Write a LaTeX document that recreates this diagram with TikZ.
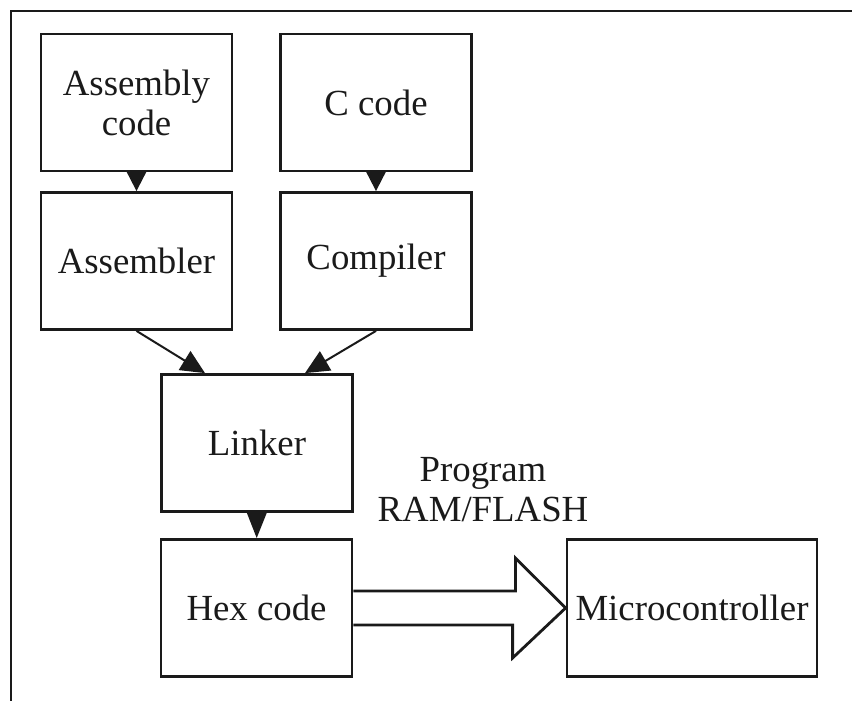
\documentclass[tikz,border=0pt]{standalone}
\usepackage{fontspec}
\setmainfont{Liberation Serif}
\usepackage{xcolor}
\usetikzlibrary{arrows.meta}
\definecolor{Ink}{HTML}{1A1A1A}
\tikzset{
  block/.style={draw=Ink, line width=1.4pt, minimum width=95.5pt, minimum height=68.5pt,
    inner sep=2pt, align=center, font=\fontsize{18.4}{20}\selectfont, text=Ink},
  flow/.style={-{Triangle[width=10pt,length=10pt]}, line width=1pt, color=Ink},
  bigarrow/.style={draw=Ink, line width=1.4pt, line join=miter},
  frame/.style={draw=Ink, line width=1.4pt},
  label/.style={align=center, font=\fontsize{18.4}{20}\selectfont, text=Ink},
}
\begin{document}
\begin{tikzpicture}[x=0.5pt, y=-0.5pt]
  \useasboundingbox (0,0) rectangle (852,701);
  % outer frame (only top and left edges show)
  \draw[frame] (852,11) -- (11,11) -- (11,701);

  % source files
  \node[block] (asm) at (136.5,102.5) {Assembly\\code};
  \node[block] (ccode) at (376,102.5) {C code};

  % tools
  \node[block] (assembler) at (136.5,261) {Assembler};
  \node[block] (compiler) at (376,261) {Compiler};
  \node[block] (linker) at (257,443) {Linker};
  \node[block] (hex) at (256.5,608) {Hex code};
  \node[block, minimum width=125pt] (mcu) at (692,608) {Microcontroller};

  \draw[flow] (asm) -- (assembler);
  \draw[flow] (ccode) -- (compiler);
  \draw[flow, -{Triangle[width=11pt,length=12pt]}] (assembler.south) -- ([xshift=-26pt]linker.north);
  \draw[flow, -{Triangle[width=11pt,length=12pt]}] (compiler.south) -- ([xshift=24pt]linker.north);
  \draw[flow, -{Triangle[width=10pt,length=13pt]}] (linker) -- (hex);

  % download arrow
  \draw[bigarrow] ([yshift=8.5pt]hex.east) -- ++(162,0) -- ++(0,-33) -- (mcu.west)
    -- ++(-53,50) -- ++(0,-33) -- ([yshift=-8.5pt]hex.east);
  \node[label] (prog) at (483,490) {Program\\RAM/FLASH};
\end{tikzpicture}
\end{document}
